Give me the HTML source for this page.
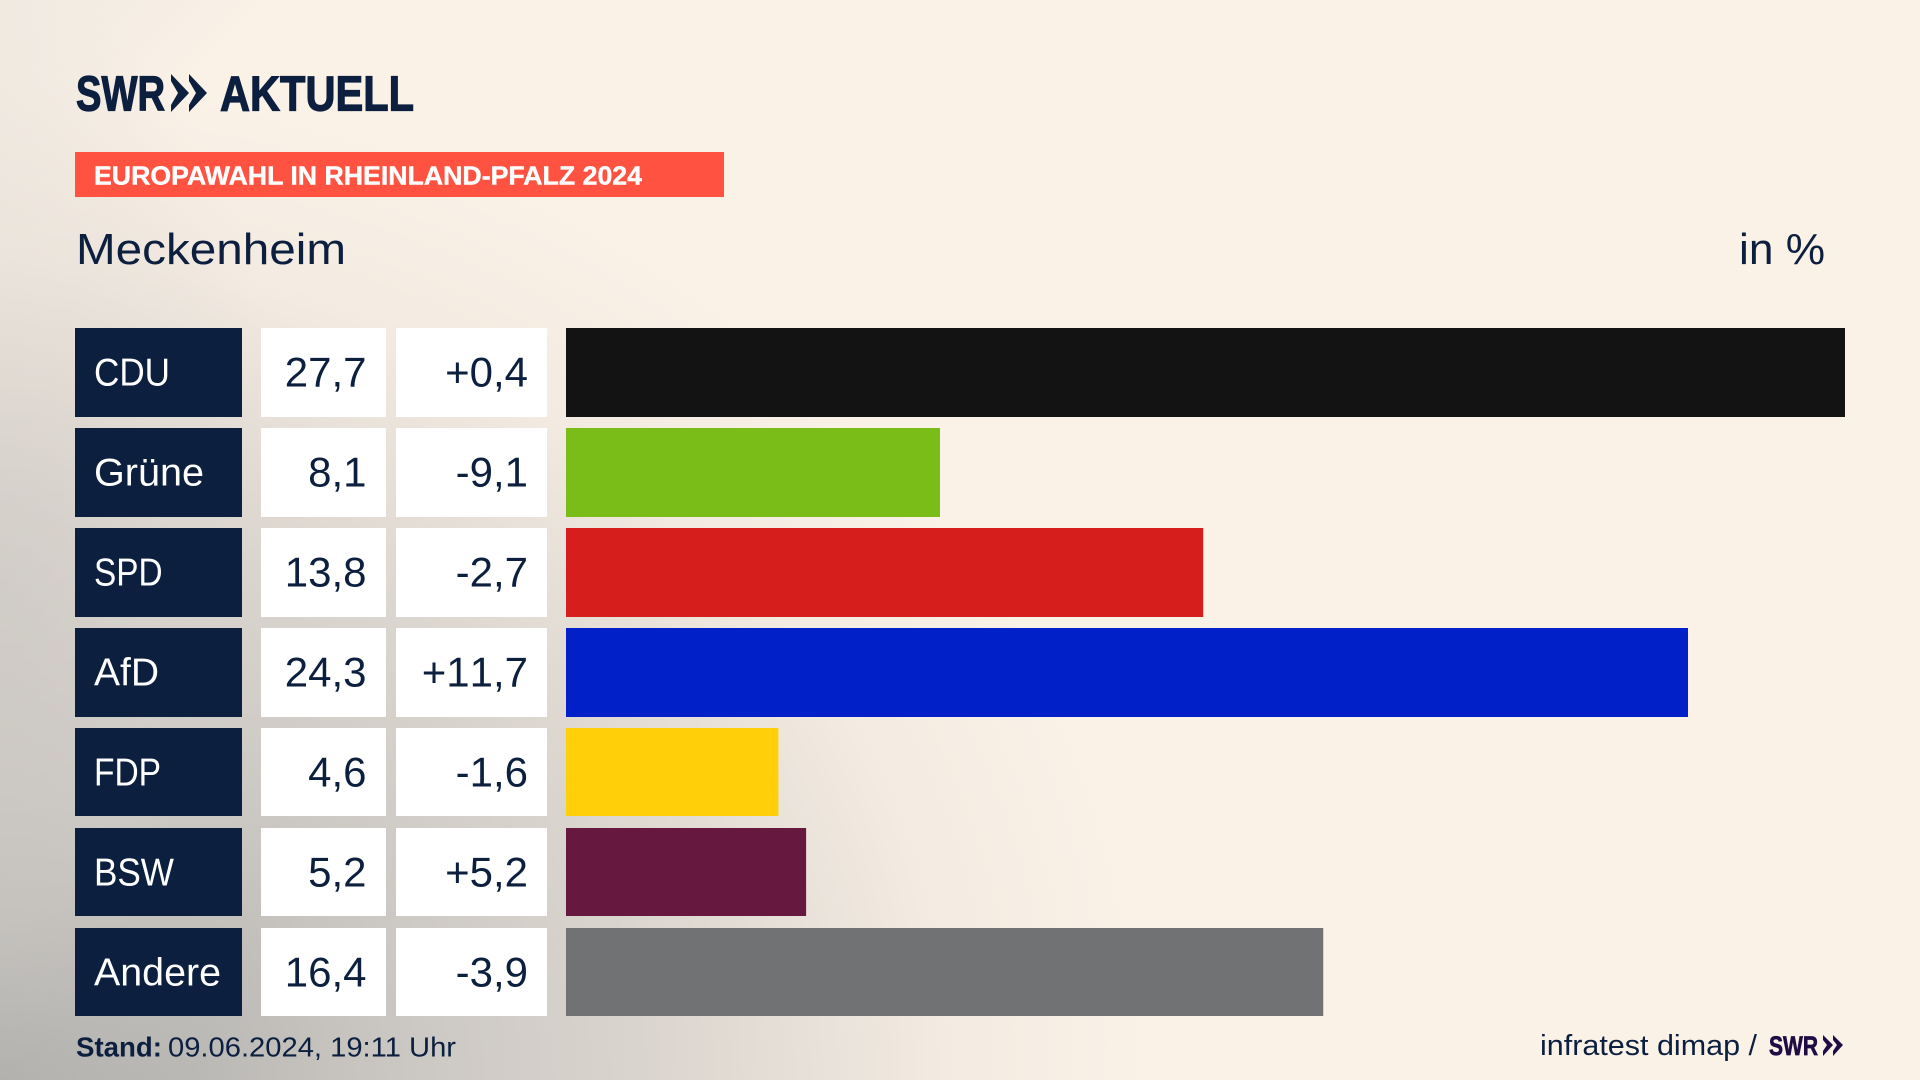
<!DOCTYPE html>
<html lang="de">
<head>
<meta charset="utf-8">
<title>Europawahl in Rheinland-Pfalz 2024 – Meckenheim</title>
<style>
  html, body { margin: 0; padding: 0; width: 1920px; height: 1080px; overflow: hidden; background: #faf1e7; }
  #stage { position: absolute; left: 0; top: 0; width: 1920px; height: 1080px;
    background:
      radial-gradient(ellipse 300px 620px at 0px 600px, rgba(205,201,196,.55) 0%, rgba(218,213,207,.35) 50%, rgba(250,241,231,0) 100%),
      radial-gradient(ellipse 1150px 1000px at 0px 1080px, rgba(170,170,168,1) 0%, rgba(196,193,189,.95) 30%, rgba(214,209,203,.85) 58%, rgba(236,228,219,.5) 82%, rgba(250,241,231,0) 100%),
      linear-gradient(135deg, rgba(236,231,223,.7) 0px, rgba(250,241,231,0) 200px),
      #faf1e7; }
  svg { position: absolute; left: 0; top: 0; }
  text { font-family: "Liberation Sans", sans-serif; fill: #0c1f3f; }
  .logo { font-weight: 700; font-size: 49px; stroke: #0c1f3f; stroke-width: 1.2px; }
  .row-label { font-size: 39px; fill: #ffffff; transform-box: fill-box; transform-origin: left center; }
  .row-num { font-size: 42px; text-anchor: end; font-kerning: none; }
  .label-cdu { transform: scaleX(.90); }
  .label-grune { transform: scaleX(1.015); }
  .label-spd { transform: scaleX(.855); }
  .label-afd { transform: scaleX(1); }
  .label-fdp { transform: scaleX(.86); }
  .label-bsw { transform: scaleX(.90); }
  .label-andere { transform: scaleX(1.01); }
  .bar-cdu { fill: #131313; }
  .bar-grune { fill: #7abd18; }
  .bar-spd { fill: #d61f1c; }
  .bar-afd { fill: #0220c8; }
  .bar-fdp { fill: #ffcf0a; }
  .bar-bsw { fill: #66183f; }
  .bar-andere { fill: #717274; }
</style>
</head>
<body>
<div id="stage">
<svg id="chart" width="1920" height="1080" viewBox="0 0 1920 1080">
  <g>
    <text class="logo" x="76" y="110.5" textLength="89" lengthAdjust="spacingAndGlyphs">SWR</text>
    <polygon points="171,74 189,93 171,112 171,105 178,93 171,81" fill="#0c1f3f"/>
    <polygon points="189,74 207,93 189,112 189,105 196,93 189,81" fill="#0c1f3f"/>
    <text class="logo" x="220" y="110.5" textLength="194" lengthAdjust="spacingAndGlyphs">AKTUELL</text>
  </g>
  <rect x="75" y="152" width="649" height="45" fill="#ff5240"/>
  <text x="94" y="184.5" font-size="26" font-weight="700" style="fill:#fff;stroke:#fff;stroke-width:.4px" textLength="548" lengthAdjust="spacingAndGlyphs">EUROPAWAHL IN RHEINLAND-PFALZ 2024</text>
  <text x="76" y="264" font-size="44" textLength="270" lengthAdjust="spacingAndGlyphs">Meckenheim</text>
  <text x="1739" y="264" font-size="44" textLength="86" lengthAdjust="spacingAndGlyphs">in %</text>
  <g id="rows"></g>
  <g>
    <text x="76" y="1056.5" font-size="28" font-weight="700" textLength="86" lengthAdjust="spacingAndGlyphs">Stand:</text>
    <text x="168" y="1056.5" font-size="28" textLength="288" lengthAdjust="spacingAndGlyphs">09.06.2024, 19:11 Uhr</text>
  </g>
  <g>
    <text x="1540" y="1055" font-size="29" textLength="217" lengthAdjust="spacingAndGlyphs">infratest dimap /</text>
    <text x="1769" y="1055" font-size="27" font-weight="700" style="fill:#1f0c44;stroke:#1f0c44;stroke-width:.7px" textLength="49" lengthAdjust="spacingAndGlyphs">SWR</text>
    <polygon points="1823,1035 1833,1045 1823,1056 1823,1051 1827,1045 1823,1040" fill="#1f0c44"/>
    <polygon points="1833,1035 1843,1045 1833,1056 1833,1051 1837,1045 1833,1040" fill="#1f0c44"/>
  </g>
</svg>
</div>
<script>
const parties = ['CDU', 'Grüne', 'SPD', 'AfD', 'FDP', 'BSW', 'Andere'];
const partyKeys = ['cdu', 'grune', 'spd', 'afd', 'fdp', 'bsw', 'andere'];
const results = [27.7, 8.1, 13.8, 24.3, 4.6, 5.2, 16.4];
const changes = [0.4, -9.1, -2.7, 11.7, -1.6, 5.2, -3.9];

const SVG_NS = 'http://www.w3.org/2000/svg';
const xStart = 566;
const xPerUnit = 1279 / 27.7;
const xScale = function (v) { return xStart + v * xPerUnit; };
const yScale = function (i) { return 328 + i * 100; };
const rowHeight = function (i) { return i < 4 ? 89 : 88; };
const formatValue = function (v) { return v.toFixed(1).replace('.', ','); };
const formatChange = function (v) { return (v > 0 ? '+' : '') + formatValue(v); };

const rows = document.getElementById('rows');

function shape(parent, tag, attrs) {
  const el = document.createElementNS(SVG_NS, tag);
  Object.keys(attrs).forEach(function (k) { el.setAttribute(k, attrs[k]); });
  parent.appendChild(el);
  return el;
}

parties.forEach(function (party, i) {
  const key = partyKeys[i];
  const y = yScale(i);
  const h = rowHeight(i);

  const row = shape(rows, 'g', {});
  
  

  const labelBox = shape(row, 'rect', { x: 75, y: y, width: 167, height: h, fill: '#0c1f3f' });
  
  

  const label = shape(row, 'text', { x: 94, y: y + 57.5, class: 'row-label label-' + key });
  label.textContent = party;
  
  

  const valueBox = shape(row, 'rect', { x: 261, y: y, width: 125, height: h, fill: '#ffffff' });
  
  

  const value = shape(row, 'text', { x: 366.5, y: y + 58.5, class: 'row-num' });
  value.textContent = formatValue(results[i]);
  
  

  const changeBox = shape(row, 'rect', { x: 396, y: y, width: 151, height: h, fill: '#ffffff' });
  
  

  const change = shape(row, 'text', { x: 528, y: y + 58.5, class: 'row-num' });
  change.textContent = formatChange(changes[i]);
  
  

  const bar = shape(row, 'rect', { x: xStart, y: y, width: xScale(results[i]) - xStart, height: h, class: 'bar-' + key });
  
  
});
</script>
</body>
</html>
